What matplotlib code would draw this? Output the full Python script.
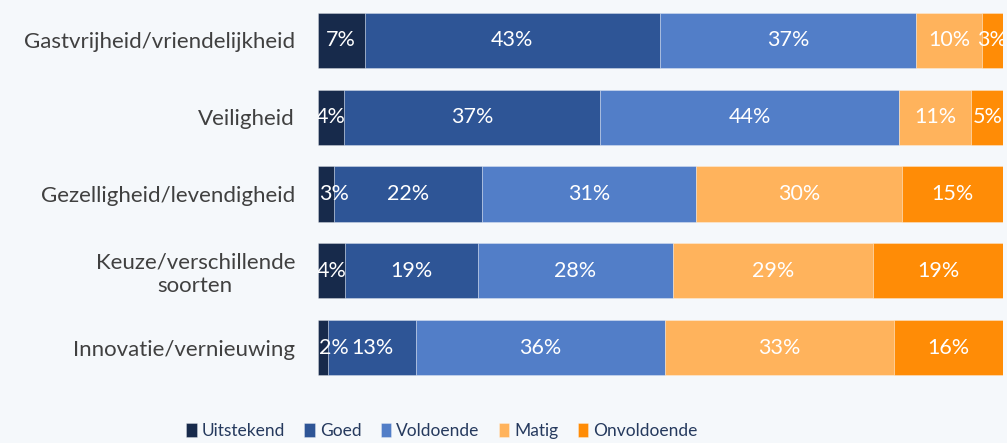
import matplotlib
matplotlib.use("Agg")
import matplotlib.pyplot as plt
import numpy as np

categories = ["Gastvrijheid/vriendelijkheid", "Veiligheid", "Gezelligheid/levendigheid",
              "Keuze/verschillende\nsoorten", "Innovatie/vernieuwing"]
series = ["Uitstekend", "Goed", "Voldoende", "Matig", "Onvoldoende"]
uitstekend = [6.8, 3.8, 2.4, 3.9, 1.5]
goed = [43.1, 37.4, 21.6, 19.4, 12.8]
voldoende = [37.4, 43.6, 31.2, 28.5, 36.4]
matig = [9.6, 10.6, 30.1, 29.2, 33.4]
onvoldoende = [3.1, 4.6, 14.7, 19.0, 15.9]
labels_uitstekend = [7, 4, 3, 4, 2]
labels_goed = [43, 37, 22, 19, 13]
labels_voldoende = [37, 44, 31, 28, 36]
labels_matig = [10, 11, 30, 29, 33]
labels_onvoldoende = [3, 5, 15, 19, 16]

colors = ["#172A4B", "#2E5596", "#527EC8", "#FFB35C", "#FF8C06"]
bg = "#F5F8FB"

plt.rcParams['font.family'] = ['Lato', 'DejaVu Sans']

fig = plt.figure(figsize=(10.07, 4.43), dpi=100, facecolor=bg)
ax = fig.add_axes([318/1007, 1-386/443, (1003-318)/1007, 384/443])
ax.set_facecolor(bg)

data = [uitstekend, goed, voldoende, matig, onvoldoende]
labs = [labels_uitstekend, labels_goed, labels_voldoende, labels_matig, labels_onvoldoende]
y = np.arange(len(categories))
left = np.zeros(len(categories))
for vals, lab, col, name in zip(data, labs, colors, series):
    vals = np.array(vals)
    ax.barh(y, vals, left=left, height=0.72, color=col, label=name,
            edgecolor=(1, 1, 1, 0.35), linewidth=0.6, zorder=2)
    for yi, l, v, t in zip(y, left, vals, lab):
        if v < 3 and l == 0:
            ax.text(l + 0.2, yi, f"{t}%", ha="left", va="center", color="white",
                    fontsize=15.5, zorder=5, clip_on=True)
        else:
            ax.text(l + v/2, yi, f"{t}%", ha="center", va="center", color="white",
                    fontsize=15.5, zorder=5, clip_on=True)
    left += vals

ax.set_xlim(0, 100)
ax.set_ylim(4.5, -0.5)
ax.set_yticks(y)
ax.set_yticklabels(categories, fontsize=16, color="#404040", multialignment="center")
ax.tick_params(axis="y", length=0, pad=16.5)
ax.set_xticks([])
for s in ax.spines.values():
    s.set_visible(False)

leg = fig.legend(loc="center", bbox_to_anchor=(442/1007, 1-431/443), ncol=5, frameon=False,
                 fontsize=12.5, handlelength=0.6, handleheight=0.85, handletextpad=0.3,
                 columnspacing=1.1, labelcolor="#263A5E")
fig.savefig("out.png", dpi=100, facecolor=bg)
